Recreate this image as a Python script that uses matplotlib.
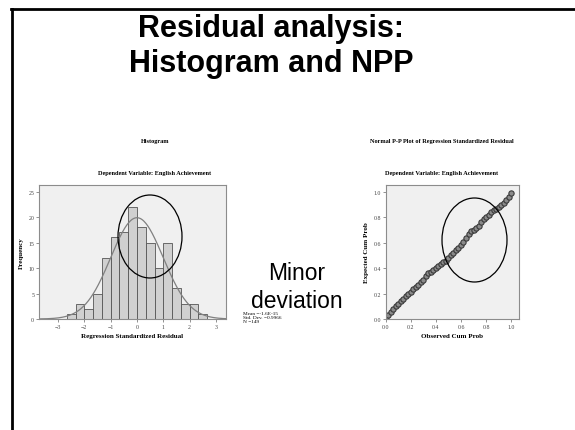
import matplotlib
matplotlib.use("Agg")
import numpy as np
import matplotlib.pyplot as plt
from matplotlib.patches import Ellipse
from matplotlib.lines import Line2D

# histogram bins (width 1/3) and counts
bin_edges = [-8/3, -7/3, -2.0, -5/3, -4/3, -1.0, -2/3, -1/3, 0.0,
             1/3, 2/3, 1.0, 4/3, 5/3, 2.0, 7/3, 8/3]
counts = [1, 3, 2, 5, 12, 16, 17, 22, 18, 15, 10, 15, 6, 3, 3, 1]
res_mean = -1.6e-15
res_sd = 0.9966
n_obs = 149
hist_xticks = [-3, -2, -1, 0, 1, 2, 3]
hist_yticks = [0, 5, 10, 15, 20, 25]

# P-P plot points (observed vs expected cum prob)
obs_cum = [0.00, 0.02, 0.04, 0.06, 0.08, 0.10, 0.12, 0.14, 0.16, 0.18,
           0.20, 0.22, 0.24, 0.26, 0.28, 0.30, 0.32, 0.34, 0.36, 0.38,
           0.40, 0.42, 0.44, 0.46, 0.48, 0.50, 0.52, 0.54, 0.56, 0.58,
           0.60, 0.62, 0.64, 0.66, 0.68, 0.70, 0.72, 0.74, 0.76, 0.78,
           0.80, 0.82, 0.84, 0.86, 0.88, 0.90, 0.92, 0.94, 0.96, 0.98, 1.00]
exp_cum = [0.00, 0.03, 0.055, 0.075, 0.10, 0.12, 0.14, 0.16, 0.18, 0.20,
           0.215, 0.235, 0.25, 0.27, 0.29, 0.31, 0.34, 0.36, 0.37, 0.385,
           0.40, 0.415, 0.43, 0.445, 0.46, 0.48, 0.50, 0.52, 0.54, 0.56,
           0.585, 0.61, 0.635, 0.67, 0.69, 0.70, 0.715, 0.735, 0.76, 0.785,
           0.80, 0.82, 0.84, 0.855, 0.865, 0.88, 0.90, 0.915, 0.935, 0.96, 0.99]
pp_ticks = [0.0, 0.2, 0.4, 0.6, 0.8, 1.0]

serif = "Liberation Serif"
sans = "Liberation Sans"
small = 4.2

fig = plt.figure(figsize=(5.75, 4.31), dpi=100)
fig.patch.set_facecolor("white")

# slide border (top and left)
fig.add_artist(Line2D([11/575, 1.0], [1 - 9.5/431, 1 - 9.5/431], color="black", lw=2.0))
fig.add_artist(Line2D([12/575, 12/575], [0.0, 1 - 9.5/431], color="black", lw=2.0))

fig.text(271/575, 1 - 37/431, "Residual analysis:", ha="center", va="baseline",
         fontsize=22, fontweight="bold", family=sans)
fig.text(271/575, 1 - 72/431, "Histogram and NPP", ha="center", va="baseline",
         fontsize=22, fontweight="bold", family=sans)


def style_axes(ax):
    ax.set_facecolor("#f0f0f0")
    for s in ax.spines.values():
        s.set_color("#8c8c8c")
        s.set_linewidth(0.8)
    ax.tick_params(labelsize=small, length=2, width=0.5, color="#666666",
                   labelcolor="#444444", pad=1.5)
    for lab in ax.get_xticklabels() + ax.get_yticklabels():
        lab.set_family(serif)


# histogram
ax1 = fig.add_axes([39/575, 1 - 320/431, 187/575, 134/431])
widths = np.diff(bin_edges)
ax1.bar(bin_edges[:-1], counts, width=widths, align="edge", color="#d0d0d0",
        edgecolor="#555555", linewidth=0.6)
xs = np.linspace(-3.72, 3.38, 300)
scale = n_obs * (bin_edges[1] - bin_edges[0])
ax1.plot(xs, scale * np.exp(-0.5 * ((xs - res_mean) / res_sd) ** 2) / (res_sd * np.sqrt(2 * np.pi)),
         color="#808080", lw=0.9)
ax1.set_xlim(-3.72, 3.38)
ax1.set_ylim(0, 26.3)
ax1.set_xticks(hist_xticks)
ax1.set_yticks(hist_yticks)
style_axes(ax1)
ax1.set_xlabel("Regression Standardized Residual", fontsize=5, family=serif, fontweight="bold", labelpad=3)
ax1.set_ylabel("Frequency", fontsize=5, family=serif, fontweight="bold", labelpad=3)

fig.text(155/575, 1 - 142/431, "Histogram", ha="center", va="center", fontsize=4.5,
         family=serif, fontweight="bold")
fig.text(155/575, 1 - 174/431, "Dependent Variable: English Achievement", ha="center", va="center",
         fontsize=4.5, family=serif, fontweight="bold")
fig.text(243/575, 1 - 318/431, "Mean =-1.6E-15\nStd. Dev. =0.9966\nN =149", ha="left", va="center",
         fontsize=3.8, family=serif, linespacing=1.0)

# P-P plot
ax2 = fig.add_axes([385.7/575, 1 - 320/431, 133/575, 134/431])
ax2.plot(obs_cum, exp_cum, linestyle="none", marker="o", markersize=3.8,
         markerfacecolor="#8a8a8a", markeredgecolor="#3a3a3a", markeredgewidth=0.8)
ax2.set_xlim(0, 1.06)
ax2.set_ylim(0, 1.055)
ax2.set_xticks(pp_ticks)
ax2.set_yticks(pp_ticks)
ax2.xaxis.set_major_formatter(matplotlib.ticker.FormatStrFormatter("%.1f"))
ax2.yaxis.set_major_formatter(matplotlib.ticker.FormatStrFormatter("%.1f"))
style_axes(ax2)
ax2.set_xlabel("Observed Cum Prob", fontsize=5, family=serif, fontweight="bold", labelpad=3)
ax2.set_ylabel("Expected Cum Prob", fontsize=5, family=serif, fontweight="bold", labelpad=3)

fig.text(442/575, 1 - 142/431, "Normal P-P Plot of Regression Standardized Residual", ha="center",
         va="center", fontsize=4.5, family=serif, fontweight="bold")
fig.text(442/575, 1 - 174/431, "Dependent Variable: English Achievement", ha="center", va="center",
         fontsize=4.5, family=serif, fontweight="bold")

# annotation
fig.text(297/575, 1 - 274/431, "Minor", ha="center", va="center", fontsize=16.5, family=sans)
fig.text(297/575, 1 - 302/431, "deviation", ha="center", va="center", fontsize=16.5, family=sans)

fig.add_artist(Ellipse((150/575, 1 - 237.5/431), 64/575, 83/431, fill=False,
                       edgecolor="black", lw=0.9, transform=fig.transFigure))
fig.add_artist(Ellipse((474.5/575, 1 - 241/431), 65/575, 84/431, fill=False,
                       edgecolor="black", lw=0.9, transform=fig.transFigure))

fig.savefig("out.png", dpi=100)
